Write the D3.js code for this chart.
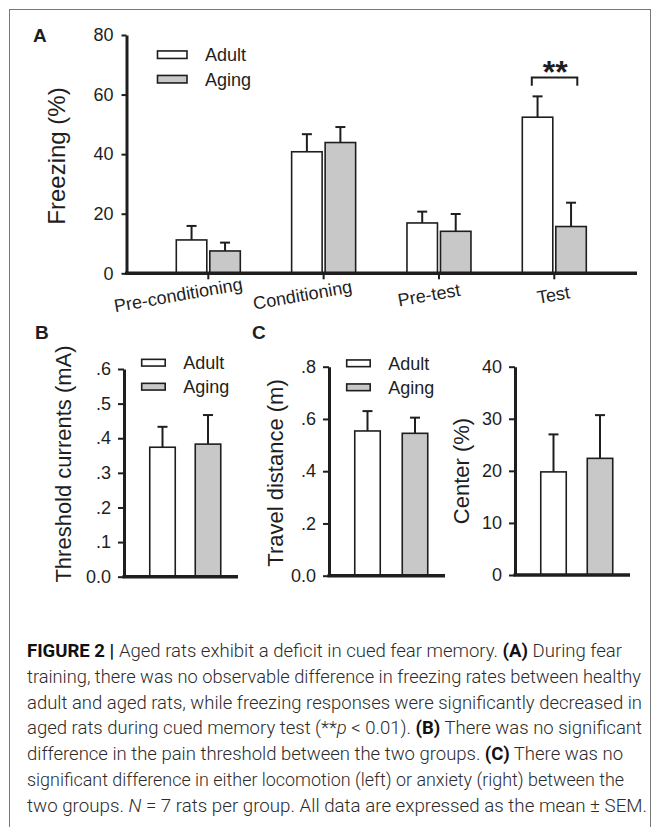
<!DOCTYPE html>
<html>
<head>
<meta charset="utf-8">
<script src="https://cdn.jsdelivr.net/npm/d3@7"></script>
<style>
body { margin: 0; background: #fff; }
svg text { font-family: "Liberation Sans", Arial, sans-serif; fill: #1e1e1e; }
</style>
</head>
<body>
<script>
// Data

var groups = ["Adult", "Aging"];
var phases = ["Pre-conditioning", "Conditioning", "Pre-test", "Test"];

var freezingAdult = [11.2, 40.8, 16.9, 52.4];
var freezingAdultSem = [4.7, 5.9, 3.8, 7.0];
var freezingAging = [7.5, 43.9, 14.1, 15.7];
var freezingAgingSem = [2.8, 5.2, 5.8, 8.0];

var thresholdMean = [0.374, 0.383];
var thresholdSem = [0.059, 0.084];
var travelMean = [0.554, 0.545];
var travelSem = [0.076, 0.060];
var centerMean = [19.8, 22.4];
var centerSem = [7.2, 8.3];

var ticksA = [0, 20, 40, 60, 80];
var ticksB = [0, 0.1, 0.2, 0.3, 0.4, 0.5, 0.6];
var ticksTravel = [0, 0.2, 0.4, 0.6, 0.8];
var ticksCenter = [0, 10, 20, 30, 40];

var fills = ["#ffffff", "#c8c8c8"];
var ink = "#1e1e1e";

var w = 657;
var h = 827;

var svg = d3.select("body")
  .append("svg")
  .attr("width", w)
  .attr("height", h);

// frame
svg.append("rect")
  .attr("x", 9.5).attr("y", 9.5)
  .attr("width", 641).attr("height", 840)
  .attr("fill", "none")
  .attr("stroke", "#777")
  .attr("stroke-width", 1);

function decimalFormat(d) {
  if (d === 0) return "0.0";
  return d3.format(".1f")(d).replace(/^0/, "");
}

function errorBar(g, cx, yTop, yBase, capHalf) {
  g.append("line")
    .attr("x1", cx).attr("x2", cx)
    .attr("y1", yBase).attr("y2", yTop)
    .attr("stroke", ink).attr("stroke-width", 2);
  g.append("line")
    .attr("x1", cx - capHalf).attr("x2", cx + capHalf)
    .attr("y1", yTop).attr("y2", yTop)
    .attr("stroke", ink).attr("stroke-width", 2);
}

function styleYAxis(g) {
  g.select(".domain").attr("stroke", ink).attr("stroke-width", 3);
  g.selectAll(".tick line").attr("stroke", ink).attr("stroke-width", 2);
  g.selectAll(".tick text")
    .attr("font-size", 18)
    .attr("font-family", "Liberation Sans, Arial, sans-serif")
    .attr("fill", ink);
}

function legend(g, x, y, rowGap, bw, bh) {
  groups.forEach(function(name, i) {
    g.append("rect")
      .attr("x", x).attr("y", y + i * rowGap - bh / 2)
      .attr("width", bw).attr("height", bh)
      .attr("fill", fills[i])
      .attr("stroke", ink).attr("stroke-width", 1.6);
    g.append("text")
      .attr("x", x + bw + 18).attr("y", y + i * rowGap)
      .attr("dy", "0.36em")
      .attr("font-size", 18)
      .text(name);
  });
}

/*
----Panel A----
*/
var gA = svg.append("g");

var yA = d3.scaleLinear().domain([0, 80]).range([273.3, 35]);
var xA = d3.scalePoint().domain(phases).range([208.3, 554.3]);
var barA = 30.5;

var seriesA = [
  { vals: freezingAdult, sem: freezingAdultSem, side: -1 },
  { vals: freezingAging, sem: freezingAgingSem, side: 1 }
];

seriesA.forEach(function(s, k) {
  phases.forEach(function(p, i) {
    var x0 = s.side < 0 ? xA(p) - 1.5 - barA : xA(p) + 1.5;
    var cx = x0 + barA / 2;
    errorBar(gA, cx, yA(s.vals[i] + s.sem[i]), yA(s.vals[i]), 5);
    gA.append("rect")
      .attr("x", x0).attr("y", yA(s.vals[i]))
      .attr("width", barA).attr("height", yA(0) - yA(s.vals[i]))
      .attr("fill", fills[k])
      .attr("stroke", ink).attr("stroke-width", 1.6);
  });
});

// y axis
gA.append("g")
  .attr("transform", "translate(126.5,0)")
  .call(d3.axisLeft(yA).tickValues(ticksA).tickSize(5).tickSizeOuter(0).tickPadding(8))
  .call(styleYAxis);

// x axis
gA.append("line")
  .attr("x1", 125).attr("x2", 637)
  .attr("y1", yA(0)).attr("y2", yA(0))
  .attr("stroke", ink).attr("stroke-width", 3.5);

gA.selectAll(".xtick")
  .data(phases)
  .enter()
  .append("line")
  .attr("x1", function(d) { return xA(d); })
  .attr("x2", function(d) { return xA(d); })
  .attr("y1", yA(0)).attr("y2", yA(0) + 6)
  .attr("stroke", ink).attr("stroke-width", 2);

var labelsA = gA.selectAll(".xlabel")
  .data(phases)
  .enter()
  .append("text")
  .attr("text-anchor", "middle")
  .attr("font-size", 18)
  .text(function(d) { return d; });

labelsA.attr("transform", function(d) {
  var len = this.getComputedTextLength();
  var cx = xA(d) + 10 - 0.3 * len;
  return "translate(" + cx + ",301) rotate(-10)";
});

// significance
var tx = xA("Test");
gA.append("path")
  .attr("d", "M" + (tx - 22.5) + "," + yA(63) + "V" + yA(65.7) + "H" + (tx + 23) + "V" + yA(63))
  .attr("fill", "none").attr("stroke", ink).attr("stroke-width", 2);
gA.append("text")
  .attr("x", tx + 1).attr("y", yA(65.7) + 5)
  .attr("text-anchor", "middle")
  .attr("font-size", 32)
  .attr("font-weight", "bold")
  .text("**");

gA.append("text")
  .attr("transform", "translate(65,156) rotate(-90)")
  .attr("text-anchor", "middle")
  .attr("font-size", 24)
  .text("Freezing (%)");

legend(gA, 157.5, 54.7, 24.5, 29.5, 7.5);

gA.append("text")
  .attr("x", 33).attr("y", 42)
  .attr("font-size", 19).attr("font-weight", "bold")
  .text("A");

/*
----Small panels B and C----
*/
function smallPanel(o) {
  var g = svg.append("g");
  var y = d3.scaleLinear().domain(o.domain).range([o.bottom, o.top]);
  var x = d3.scalePoint().domain(groups).range([o.left + 38.5, o.right - 30]);
  var bw = 25.5;

  groups.forEach(function(name, i) {
    var cx = x(name);
    errorBar(g, cx, y(o.means[i] + o.sems[i]), y(o.means[i]), 5);
    g.append("rect")
      .attr("x", cx - bw / 2).attr("y", y(o.means[i]))
      .attr("width", bw).attr("height", y(0) - y(o.means[i]))
      .attr("fill", fills[i])
      .attr("stroke", ink).attr("stroke-width", 1.6);
  });

  g.append("g")
    .attr("transform", "translate(" + o.left + ",0)")
    .call(d3.axisLeft(y).tickValues(o.ticks).tickFormat(o.format)
      .tickSize(6).tickSizeOuter(0).tickPadding(7))
    .call(styleYAxis);

  g.append("line")
    .attr("x1", o.left - 1.5).attr("x2", o.right)
    .attr("y1", y(0)).attr("y2", y(0))
    .attr("stroke", ink).attr("stroke-width", 3.5);

  g.append("text")
    .attr("transform", "translate(" + o.titleX + "," + o.titleY + ") rotate(-90)")
    .attr("text-anchor", "middle")
    .attr("font-size", 22)
    .text(o.title);

  if (o.legendX) legend(g, o.legendX, o.legendY, 24, 23.5, 6.7);
  return g;
}

smallPanel({
  left: 124, right: 238, top: 369, bottom: 576.7,
  domain: [0, 0.6], ticks: ticksB, format: decimalFormat,
  means: thresholdMean, sems: thresholdSem,
  title: "Threshold currents (mA)", titleX: 71, titleY: 464,
  legendX: 141.7, legendY: 362.7
});

smallPanel({
  left: 329, right: 445, top: 366.7, bottom: 575.7,
  domain: [0, 0.8], ticks: ticksTravel, format: decimalFormat,
  means: travelMean, sems: travelSem,
  title: "Travel distance (m)", titleX: 283, titleY: 473,
  legendX: 346.7, legendY: 363.3
});

smallPanel({
  left: 515, right: 630, top: 366.7, bottom: 575,
  domain: [0, 40], ticks: ticksCenter, format: d3.format("d"),
  means: centerMean, sems: centerSem,
  title: "Center (%)", titleX: 469, titleY: 471
});

svg.append("text").attr("x", 35).attr("y", 339)
  .attr("font-size", 19).attr("font-weight", "bold").text("B");
svg.append("text").attr("x", 252).attr("y", 339)
  .attr("font-size", 19).attr("font-weight", "bold").text("C");

/*
----Caption----
*/
var captionLines = [
  [["b", "FIGURE 2 | "], ["", "Aged rats exhibit a deficit in cued fear memory. "], ["b", "(A)"], ["", " During fear"]],
  [["", "training, there was no observable difference in freezing rates between healthy"]],
  [["", "adult and aged rats, while freezing responses were significantly decreased in"]],
  [["", "aged rats during cued memory test (**"], ["i", "p"], ["", " < 0.01). "], ["b", "(B)"], ["", " There was no significant"]],
  [["", "difference in the pain threshold between the two groups. "], ["b", "(C)"], ["", " There was no"]],
  [["", "significant difference in either locomotion (left) or anxiety (right) between the"]],
  [["", "two groups. "], ["i", "N"], ["", " = 7 rats per group. All data are expressed as the mean \u00b1 SEM."]]
];
var captionEnds = [622, 641, 642, 642, 623, 624, 647];

var cap = svg.append("g");
captionLines.forEach(function(parts, i) {
  var t = cap.append("text")
    .attr("x", 27)
    .attr("y", 657 + i * 25.8)
    .attr("font-size", 18.5)
    .attr("textLength", captionEnds[i] - 27)
    .attr("lengthAdjust", "spacingAndGlyphs")
    .style("font-family", "Roboto, 'Liberation Sans', sans-serif")
    .style("font-weight", 300)
    .style("fill", "#2b2b2b");
  parts.forEach(function(p) {
    t.append("tspan")
      .style("font-weight", p[0] === "b" ? 700 : null)
      .attr("font-style", p[0] === "i" ? "italic" : null)
      .style("fill", p[0] === "b" ? "#111" : null)
      .text(p[1]);
  });
});
</script>
</body>
</html>
